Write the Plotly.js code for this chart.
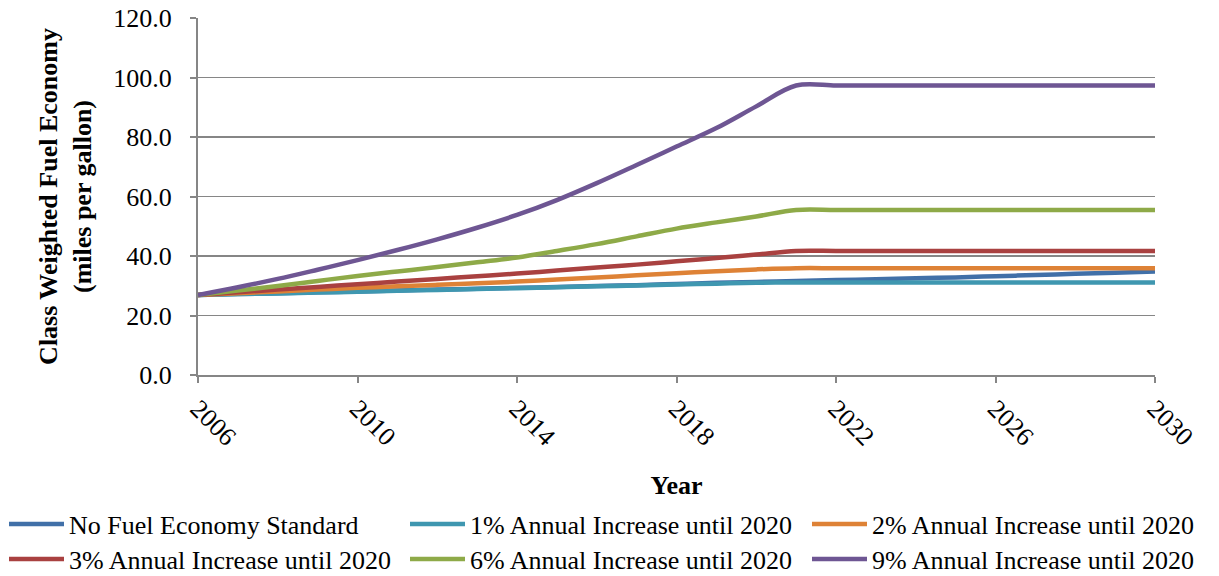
<!DOCTYPE html>
<html>
<head>
<meta charset="utf-8">
<script src="https://cdn.plot.ly/plotly-3.0.1.min.js"></script>
<style>html,body{margin:0;padding:0;background:#fff;}#chart{width:1219px;height:576px;}</style>
</head>
<body>
<div id="chart"></div>
<script>
var years = [2006,2007,2008,2009,2010,2011,2012,2013,2014,2015,2016,2017,2018,2019,2020,2021,2022,2023,2024,2025,2026,2027,2028,2029,2030];

var seriesNames = [
  "No Fuel Economy Standard",
  "1% Annual Increase until 2020",
  "2% Annual Increase until 2020",
  "3% Annual Increase until 2020",
  "6% Annual Increase until 2020",
  "9% Annual Increase until 2020"
];

var noStandard = [26.9,27.2,27.5,27.8,28.1,28.4,28.7,29.0,29.3,29.6,29.9,30.2,30.6,31.0,31.3,31.6,31.9,32.2,32.5,32.8,33.2,33.6,34.0,34.4,34.8];
var pct1 = [26.9,27.2,27.4,27.7,28.0,28.3,28.6,28.9,29.2,29.5,29.8,30.1,30.4,30.7,31.0,31.1,31.1,31.1,31.1,31.1,31.1,31.1,31.1,31.1,31.1];
var pct2 = [26.9,27.5,28.1,28.7,29.3,29.8,30.3,30.8,31.4,32.1,32.8,33.5,34.2,34.9,35.5,35.9,35.9,35.9,35.9,35.9,35.9,35.9,35.9,35.9,35.9];
var pct3 = [26.9,27.8,28.7,29.6,30.5,31.4,32.3,33.2,34.1,35.1,36.1,37.1,38.2,39.3,40.5,41.7,41.7,41.7,41.7,41.7,41.7,41.7,41.7,41.7,41.7];
var pct6 = [26.9,28.4,29.9,31.6,33.3,34.8,36.3,37.9,39.5,41.7,44.0,46.6,49.2,51.3,53.3,55.5,55.5,55.5,55.5,55.5,55.5,55.5,55.5,55.5,55.5];
var pct9 = [26.9,29.5,32.3,35.4,38.6,42.0,45.6,49.5,53.8,58.8,64.5,70.6,76.8,83.0,90.3,97.3,97.3,97.3,97.3,97.3,97.3,97.3,97.3,97.3,97.3];

var seriesValues = [noStandard, pct1, pct2, pct3, pct6, pct9];
var colors = ["#4170A8", "#3F97B0", "#DE8236", "#A94140", "#8EAA48", "#6E5693"];
var legendIds = ["legend", "legend2", "legend3", "legend4", "legend5", "legend6"];

var FONT = "'Liberation Serif', 'Times New Roman', serif";
var W = 1219, H = 576;

var traces = seriesNames.map(function(name, i) {
  return {
    x: years,
    y: seriesValues[i],
    name: name,
    type: "scatter",
    mode: "lines",
    line: {color: colors[i], width: 4.5, shape: "spline", smoothing: 1},
    legend: legendIds[i],
    hoverinfo: "x+y+name"
  };
});

function legendAt(leftPx, centerYPx) {
  return {
    orientation: "h",
    xref: "container",
    yref: "container",
    xanchor: "left",
    yanchor: "middle",
    x: leftPx / W,
    y: 1 - centerYPx / H,
    font: {family: FONT, size: 26, color: "#000"},
    bgcolor: "rgba(0,0,0,0)",
    borderwidth: 0,
    itemwidth: 55
  };
}

var layout = {
  width: W,
  height: H,
  margin: {l: 198, r: 64, t: 18, b: 201, pad: 0},
  paper_bgcolor: "#fff",
  plot_bgcolor: "#fff",
  font: {family: FONT, size: 26, color: "#000"},
  showlegend: true,
  legend: legendAt(4, 524),
  legend2: legendAt(405, 524),
  legend3: legendAt(807, 524),
  legend4: legendAt(4, 559),
  legend5: legendAt(405, 559),
  legend6: legendAt(807, 559),
  xaxis: {
    range: [2006, 2030],
    tick0: 2006,
    dtick: 4,
    tickangle: 45,
    ticks: "outside",
    ticklen: 6,
    tickwidth: 2,
    tickcolor: "#868686",
    showline: true,
    linecolor: "#868686",
    linewidth: 2,
    showgrid: false,
    zeroline: false,
    tickfont: {family: FONT, size: 26, color: "#000"},
    title: {text: "<b>Year</b>", font: {family: FONT, size: 26, color: "#000"}, standoff: 41}
  },
  yaxis: {
    range: [0, 120],
    tick0: 0,
    dtick: 20,
    tickformat: ".1f",
    ticks: "outside",
    ticklen: 6,
    tickwidth: 2,
    tickcolor: "#868686",
    showline: true,
    linecolor: "#868686",
    linewidth: 2,
    showgrid: true,
    gridcolor: "#868686",
    gridwidth: 1.8,
    zeroline: false,
    ticklabelstandoff: 13,
    tickfont: {family: FONT, size: 26, color: "#000"},
    title: {text: "<b>Class Weighted Fuel Economy<br>(miles per gallon)</b>", font: {family: FONT, size: 26, color: "#000"}, standoff: 14}
  }
};

Plotly.newPlot("chart", traces, layout, {displayModeBar: false, staticPlot: true});
</script>
</body>
</html>
